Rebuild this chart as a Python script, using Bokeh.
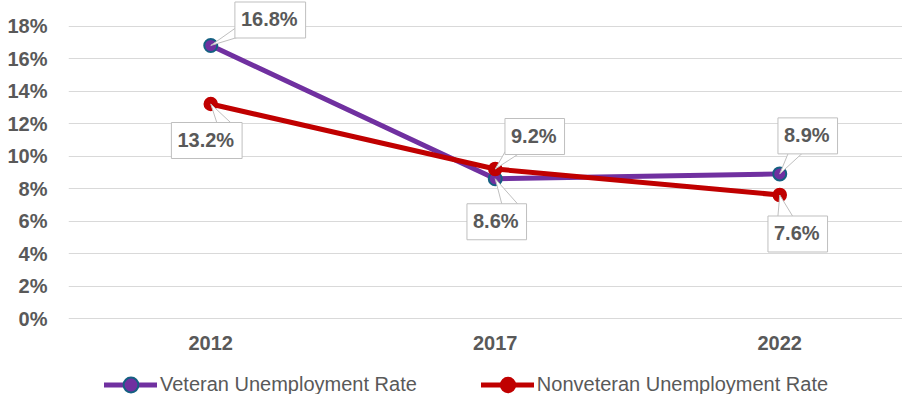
from bokeh.plotting import figure
from bokeh.models import Range1d, FixedTicker, PrintfTickFormatter, Label, Legend, LegendItem
from bokeh.embed import file_html
from bokeh.resources import INLINE

# ---- data ----
years = ["2012", "2017", "2022"]
veteran = [16.8, 8.6, 8.9]
nonveteran = [13.2, 9.2, 7.6]
y_ticks = [0, 2, 4, 6, 8, 10, 12, 14, 16, 18]
series_names = ["Veteran Unemployment Rate", "Nonveteran Unemployment Rate"]

# ---- layout / style ----
W, H = 902, 394
LEFT = 68                 # frame left edge (px)
ZERO_Y = 318              # screen y of the 0% line
XPX = 284.5               # px per category
YPX = 16.25               # px per percentage point
FRAME_W = W - LEFT
GRAY = "#595959"
FONT = "Liberation Sans"
PURPLE, TEAL, RED = "#7030A0", "#156082", "#C00000"

x = list(range(len(years)))

p = figure(width=W, height=H,
           x_range=Range1d(-0.5, -0.5 + FRAME_W / XPX),
           y_range=Range1d(-(H - ZERO_Y) / YPX, ZERO_Y / YPX),
           output_backend="svg", toolbar_location=None,
           min_border_left=LEFT, min_border_right=0, min_border_top=0, min_border_bottom=0)
p.outline_line_color = None
p.xgrid.grid_line_color = None
p.ygrid.grid_line_color = "#D9D9D9"
p.ygrid.grid_line_width = 1

for ax in (p.xaxis[0], p.yaxis[0]):
    ax.axis_line_color = None
    ax.major_tick_line_color = None
    ax.minor_tick_line_color = None
    ax.major_tick_out = 0
    ax.major_tick_in = 0
    ax.major_label_text_font = FONT
    ax.major_label_text_font_style = "bold"
    ax.major_label_text_font_size = "20px"
    ax.major_label_text_color = GRAY

p.xaxis.ticker = FixedTicker(ticks=x)
p.xaxis.major_label_overrides = {i: yr for i, yr in enumerate(years)}
p.xaxis.major_label_standoff = 17
p.xaxis.fixed_location = 0
p.yaxis.ticker = FixedTicker(ticks=y_ticks)
p.yaxis.formatter = PrintfTickFormatter(format="%d%%")
p.yaxis.major_label_standoff = 21

r1 = p.line(x, veteran, line_color=PURPLE, line_width=5, line_cap="round", line_join="round")
s1 = p.scatter(x, veteran, size=13, fill_color=PURPLE, line_color=TEAL, line_width=2)
r2 = p.line(x, nonveteran, line_color=RED, line_width=5, line_cap="round", line_join="round")
s2 = p.scatter(x, nonveteran, size=13, fill_color=RED, line_color=RED, line_width=1.5)

# data-label callouts: (series, index, box-centre offset px (y up), wedge base px rel. box centre)
callouts = [
    (veteran, 0, (59.5, 25.5), [(-34, -7.5), (-25, -15)]),
    (nonveteran, 0, (-4, -36.5), [(11, 15), (27, 15)]),
    (nonveteran, 1, (39.5, 32.5), [(-29.5, -15), (-12.5, -15)]),
    (veteran, 1, (1.5, -43), [(5.5, 16), (22.5, 16)]),
    (veteran, 2, (28, 38), [(-19, -16), (-4, -16)]),
    (nonveteran, 2, (18, -39), [(-20, 16), (-4, 16)]),
]

xs, ys = [], []
for series, i, (dx, dy), base in callouts:
    px, py = x[i], series[i]
    xs.append([px] + [px + (dx + bx) / XPX for bx, by in base])
    ys.append([py] + [py + (dy + by) / YPX for bx, by in base])
p.patches(xs, ys, fill_color="white", line_color="#BFBFBF", line_width=1)

for series, i, (dx, dy), base in callouts:
    p.add_layout(Label(x=x[i], y=series[i], x_offset=dx, y_offset=dy,
                       text=f"{series[i]:.1f}%", text_align="center", text_baseline="middle",
                       text_font=FONT, text_font_style="bold", text_font_size="20px",
                       text_color=GRAY, background_fill_color="white",
                       border_line_color="#BFBFBF", border_line_width=1,
                       padding=(6, 8, 6, 8)))

legend = Legend(items=[LegendItem(label=series_names[0], renderers=[r1, s1]),
                       LegendItem(label=series_names[1], renderers=[r2, s2])],
                orientation="horizontal", location=(104 - LEFT, -9), padding=0, margin=0,
                spacing=64, glyph_width=53, glyph_height=37, label_standoff=3,
                border_line_color=None, background_fill_alpha=0,
                label_text_font=FONT, label_text_font_size="20px", label_text_color=GRAY)
p.add_layout(legend)

open("out.html", "w").write(file_html(p, INLINE))
